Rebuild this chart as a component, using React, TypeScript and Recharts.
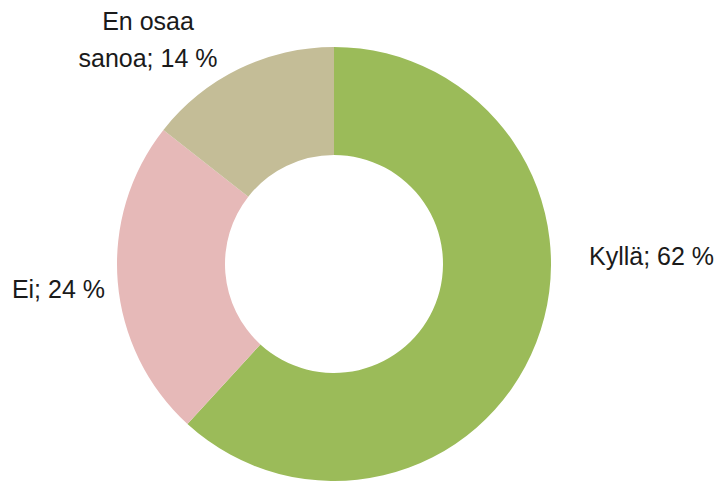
import { Pie, PieChart, Cell } from "recharts"

const categories = ["Kyllä", "Ei", "En osaa sanoa"]
const shares = [61.8, 23.8, 14.4]
const sliceColors = ["#9BBB59", "#E6B9B8", "#C4BD97"]

// label placement relative to the pie centre (lines split for the wrapped label)
const labelLines = [["Kyllä; 62 %"], ["Ei; 24 %"], ["En osaa", "sanoa; 14 %"]]
const labelOffsets = [
    { dx: 255, dy: -6, anchor: "start" },
    { dx: -229, dy: 27, anchor: "end" },
    { dx: -186, dy: -241, anchor: "middle" },
]

const data = categories.map((name, i) => ({ name, value: shares[i] }))

const renderLabel = (props: any) => {
    const { cx, cy, index } = props
    const off = labelOffsets[index]
    const lines = labelLines[index]
    return (
        <text
            x={cx + off.dx}
            y={cy + off.dy}
            textAnchor={off.anchor}
            dominantBaseline="middle"
            fill="#1a1a1a"
            fontFamily="'Liberation Sans', Arial, sans-serif"
            fontSize={25}
        >
            {lines.map((line, i) => (
                <tspan key={i} x={cx + off.dx} y={cy + off.dy + i * 36.5}>
                    {line}
                </tspan>
            ))}
        </text>
    )
}

const App = () => {
    return (
        <div style={{ position: "absolute", left: 0, top: 0, background: "#fff" }}>
            <PieChart width={722} height={481} margin={{ top: 0, right: 0, bottom: 0, left: 0 }}>
                <Pie
                    data={data}
                    dataKey="value"
                    nameKey="name"
                    cx={334}
                    cy={264}
                    innerRadius={109}
                    outerRadius={217}
                    startAngle={90}
                    endAngle={-270}
                    stroke="none"
                    label={renderLabel}
                    labelLine={false}
                    isAnimationActive={false}
                >
                    {data.map((d, i) => (
                        <Cell key={d.name} fill={sliceColors[i]} />
                    ))}
                </Pie>
            </PieChart>
        </div>
    )
}

export default App
